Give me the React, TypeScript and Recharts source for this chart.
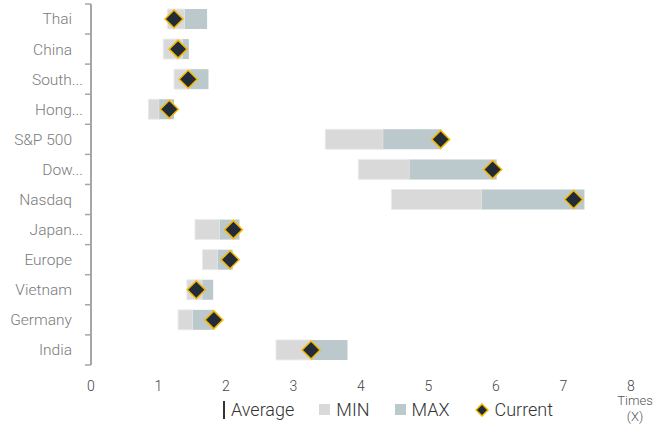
import React from 'react'
import {
  ComposedChart,
  Bar,
  Line,
  XAxis,
  YAxis,
  Legend,
} from 'recharts'

const markets = ['Thai', 'China', 'South...', 'Hong...', 'S&P 500', 'Dow...', 'Nasdaq', 'Japan...', 'Europe', 'Vietnam', 'Germany', 'India']
const minVals = [1.13, 1.07, 1.23, 0.85, 3.47, 3.96, 4.45, 1.54, 1.65, 1.42, 1.29, 2.74]
const avgVals = [1.39, 1.36, 1.47, 1.01, 4.33, 4.72, 5.79, 1.91, 1.88, 1.65, 1.51, 3.26]
const maxVals = [1.72, 1.45, 1.74, 1.23, 5.19, 6.01, 7.31, 2.2, 2.1, 1.81, 1.82, 3.8]
const currentVals = [1.23, 1.29, 1.44, 1.16, 5.18, 5.95, 7.15, 2.11, 2.06, 1.56, 1.82, 3.26]
const xTicks = [0, 1, 2, 3, 4, 5, 6, 7, 8]

const data = markets.map((name, i) => ({
  name,
  base: minVals[i],
  minPart: avgVals[i] - minVals[i],
  maxPart: maxVals[i] - avgVals[i],
  current: currentVals[i],
}))

const FONT = 'Roboto, "Liberation Sans", Arial, sans-serif'
const MIN_COLOR = '#d9d9d9'
const MAX_COLOR = '#bbc8cc'
const AXIS_COLOR = '#a6a6a6'

function YTick(props: any) {
  const { x, y, payload, index } = props
  const label: string = payload.value
  const cut = label.endsWith('...')
  return (
    <g>
      {index === 0 && <line x1={x - 6} x2={x} y1={y - 15} y2={y - 15} stroke={AXIS_COLOR} strokeWidth={1.5} />}
      <line x1={x - 6} x2={x} y1={y + 15} y2={y + 15} stroke={AXIS_COLOR} strokeWidth={1.5} />
      <text x={cut ? x - 8 : x - 19} y={y} dy="0.35em" textAnchor="end" fill="#7a7a7a" fontSize={15.5} fontWeight={300} fontFamily={FONT}>
        {label}
      </text>
    </g>
  )
}

function Diamond(props: any) {
  const { cx, cy } = props
  if (cx == null || cy == null) return null
  const r = 9
  return (
    <path
      d={`M${cx},${cy - r} L${cx + r},${cy} L${cx},${cy + r} L${cx - r},${cy} Z`}
      fill="#222b38"
      stroke="#f5b800"
      strokeWidth={1.5}
    />
  )
}

function TimesLabel(props: any) {
  const { viewBox } = props
  const cx = viewBox.x + viewBox.width + 4
  return (
    <text textAnchor="middle" fill="#555" fontSize={13} fontWeight={300} fontFamily={FONT}>
      <tspan x={cx} y={viewBox.y + 40}>Times</tspan>
      <tspan x={cx} y={viewBox.y + 56}>(X)</tspan>
    </text>
  )
}

function LegendContent() {
  const item: React.CSSProperties = { display: 'flex', alignItems: 'center', gap: 6 }
  return (
    <div style={{ display: 'flex', alignItems: 'center', gap: 25, fontFamily: FONT, fontWeight: 300, fontSize: 18, color: '#333' }}>
      <div style={item}>
        <span style={{ width: 2, height: 18, background: '#333', display: 'inline-block' }} />
        <span>Average</span>
      </div>
      <div style={item}>
        <span style={{ width: 11, height: 11, background: MIN_COLOR, display: 'inline-block' }} />
        <span>MIN</span>
      </div>
      <div style={item}>
        <span style={{ width: 11, height: 11, background: MAX_COLOR, display: 'inline-block' }} />
        <span>MAX</span>
      </div>
      <div style={item}>
        <svg width={14} height={14}>
          <path d="M7,1 L13,7 L7,13 L1,7 Z" fill="#222b38" stroke="#f5b800" strokeWidth={1.5} />
        </svg>
        <span>Current</span>
      </div>
    </div>
  )
}

export default function App() {
  return (
    <div style={{ position: 'absolute', left: 0, top: 0, width: 655, height: 424, background: '#fff' }}>
      <ComposedChart
        width={655}
        height={424}
        data={data}
        layout="vertical"
        margin={{ top: 4, right: 24, bottom: 1, left: 0 }}
      >
        <XAxis
          xAxisId="top"
          type="number"
          orientation="top"
          domain={[0, 8]}
          ticks={xTicks}
          tick={false}
          tickLine={false}
          height={0}
          axisLine={{ stroke: AXIS_COLOR, strokeWidth: 1.5 }}
        />
        <XAxis
          type="number"
          domain={[0, 8]}
          ticks={xTicks}
          axisLine={false}
          tickLine={false}
          tickSize={0}
          tickMargin={16}
          height={30}
          tick={{ fill: '#444', fontSize: 14, fontWeight: 300, fontFamily: FONT }}
          label={<TimesLabel />}
        />
        <YAxis
          type="category"
          dataKey="name"
          width={91}
          tickSize={0}
          tickMargin={0}
          tickLine={false}
          interval={0}
          tick={<YTick />}
          axisLine={{ stroke: AXIS_COLOR, strokeWidth: 2 }}
        />
        <Legend
          verticalAlign="bottom"
          content={<LegendContent />}
          wrapperStyle={{ left: 223, top: 399, width: 380, height: 28 }}
        />
        <Bar dataKey="base" stackId="r" fill="transparent" barSize={20} isAnimationActive={false} legendType="none" />
        <Bar dataKey="minPart" stackId="r" fill={MIN_COLOR} stroke="#ebebeb" strokeWidth={1} barSize={20} isAnimationActive={false} />
        <Bar dataKey="maxPart" stackId="r" fill={MAX_COLOR} barSize={20} isAnimationActive={false} />
        <Line dataKey="current" stroke="none" dot={<Diamond />} activeDot={false} isAnimationActive={false} />
      </ComposedChart>
    </div>
  )
}
